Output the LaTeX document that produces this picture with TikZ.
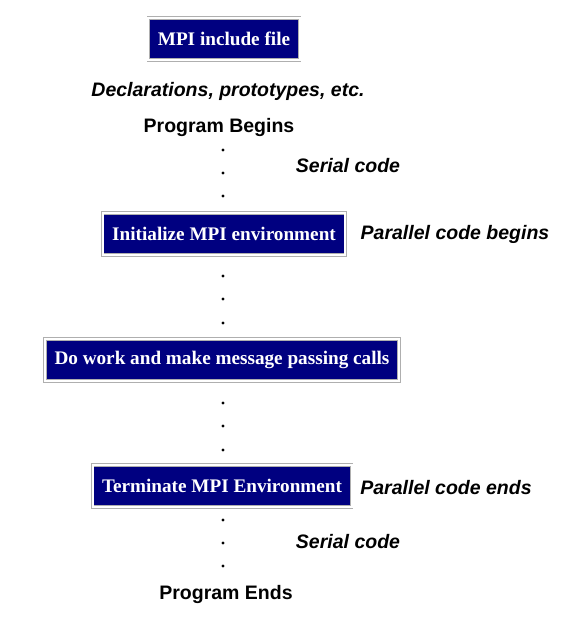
\documentclass[tikz,border=0pt]{standalone}
\usepackage{fontspec}
\setmainfont{Liberation Serif}
\setsansfont{Liberation Sans}
\definecolor{mpinavy}{RGB}{0,0,128}
\definecolor{mpiframe}{RGB}{175,175,175}

\begin{document}
\begin{tikzpicture}[x=1pt,y=-1pt,
    mpibox/.style={fill=mpinavy,draw=mpiframe,double=white,double distance=2pt,line width=0.7pt,
      text=white,font=\fontsize{19.2}{22}\selectfont\bfseries,minimum height=42pt,inner xsep=9.5pt},
    stagetext/.style={font=\sffamily\bfseries\fontsize{19.5}{22}\selectfont},
    remark/.style={font=\sffamily\bfseries\itshape\fontsize{19.5}{22}\selectfont}]
    \useasboundingbox (0,0) rectangle (568,620);
    % boxes
    \node[mpibox] (inc) at (224,39) {MPI include file};
    \node[mpibox] (init) at (224,234) {Initialize MPI environment};
    \node[mpibox] (work) at (222,360) {Do work and make message passing calls};
    \node[mpibox] (term) at (222,486) {Terminate MPI Environment};
    % texts
    \node[remark] (decl) at (228,91) {Declarations, prototypes, etc.};
    \node[stagetext] (begins) at (219,128) {Program Begins};
    \node[stagetext] (ends) at (226,594) {Program Ends};
    \node[remark] (serialA) at (348,166) {Serial code};
    \node[remark] (parbegin) at (455,234) {Parallel code begins};
    \node[remark] (parend) at (446,488) {Parallel code ends};
    \node[remark] (serialB) at (348,542) {Serial code};
    % dots
    \foreach \y in {150,173,196,276,299,323,403,426,450,520,543,566} \fill (223,\y) circle (1.6);
\end{tikzpicture}
\end{document}
